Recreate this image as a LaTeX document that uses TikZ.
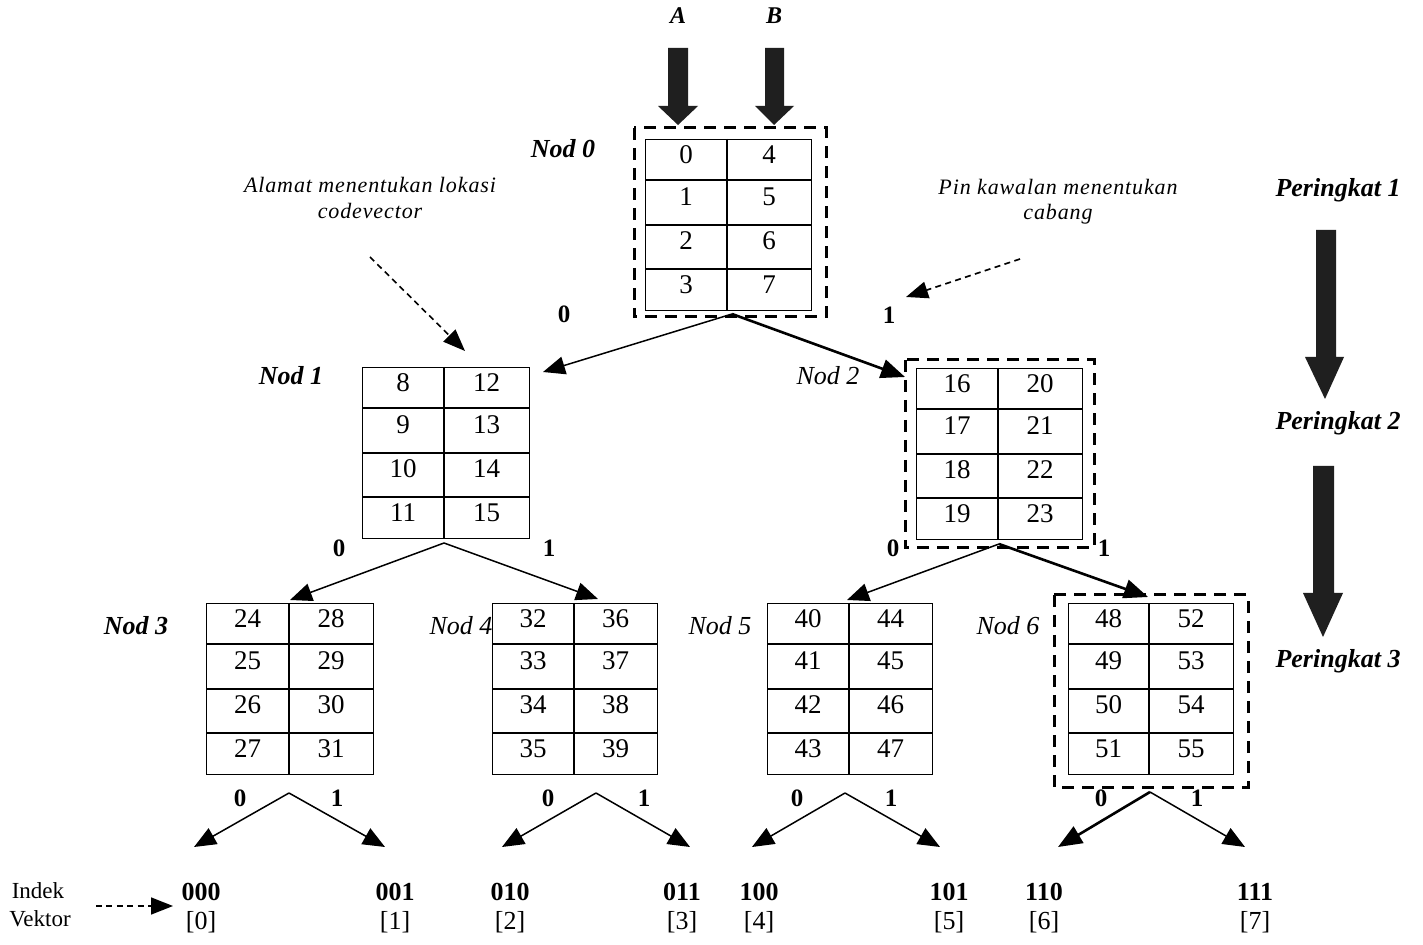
\documentclass[tikz,border=0pt]{standalone}
\usepackage{fontspec}
\setmainfont{Liberation Serif}
\newfontfamily\notefont[LetterSpace=4]{Liberation Serif}
\usetikzlibrary{arrows.meta}

% one pixel of the layout grid = 0.5pt, y grows downwards
\tikzset{
  cell/.style={font=\fontsize{13.5}{15}\selectfont, inner sep=0pt},
  tablebox/.style={draw, line width=0.6pt, anchor=north west, inner sep=0pt,
                   minimum height=85.5pt},
  gridline/.style={line width=0.6pt},
  selbox/.style={draw, line width=1.5pt, dash pattern=on 6pt off 4pt},
  branch/.style={line width=0.75pt, -{Triangle[length=11pt,width=9pt]}},
  chosen/.style={line width=1.3pt, -{Triangle[length=12pt,width=9.5pt]}},
  hint/.style={line width=0.8pt, dash pattern=on 3pt off 2.2pt,
               -{Triangle[length=11pt,width=8.5pt]}},
  nodbold/.style={font=\fontsize{13}{15}\selectfont\bfseries\itshape, anchor=base, inner sep=0pt},
  nodital/.style={font=\fontsize{13}{15}\selectfont\itshape, anchor=base, inner sep=0pt},
  bit/.style={font=\fontsize{12.5}{15}\selectfont\bfseries, anchor=base, inner sep=0pt},
  leafcode/.style={font=\fontsize{13}{15}\selectfont\bfseries, anchor=base, inner sep=0pt},
  leafidx/.style={font=\fontsize{13}{15}\selectfont, anchor=base, inner sep=0pt},
  notetext/.style={font=\fontsize{11}{13}\selectfont\notefont\itshape, anchor=base, inner sep=0pt},
  sidetext/.style={font=\fontsize{11.5}{14}\selectfont, anchor=base, inner sep=0pt},
  level/.style={font=\fontsize{13}{15}\selectfont\bfseries\itshape, anchor=base, inner sep=0pt},
  blockarrow/.style={fill=black!88},
}

% codebook table: name, left x, divider x, right x, top y,
% first entry of left column, first entry of right column
\newcommand{\cbtable}[7]{%
  \pgfmathsetmacro{\cbw}{(#4-#2)*0.5}%
  \node[tablebox, minimum width=\cbw pt] (#1) at (#2,#5) {};
  \draw[gridline] (#3,#5) -- (#3,#5+171);
  \foreach \r in {41,86,130} \draw[gridline] (#2,#5+\r) -- (#4,#5+\r);
  \foreach \r/\ty in {0/16,1/58,2/102,3/146} {
    \pgfmathtruncatemacro{\va}{#6+\r}%
    \pgfmathtruncatemacro{\vb}{#7+\r}%
    \node[cell] (#1-a\r) at ({(#2+#3)/2},#5+\ty) {\va};
    \node[cell] (#1-b\r) at ({(#3+#4)/2},#5+\ty) {\vb};
  }
}

\begin{document}
\begin{tikzpicture}[x=0.5pt,y=-0.5pt]
\useasboundingbox (0,0) rectangle (1423,945);
\fill[white] (0,0) rectangle (1423,945);

% ---- input arrows A and B ----
\node[level, font=\fontsize{12}{14}\selectfont\bfseries\itshape] (lblA) at (678,24) {A};
\node[level, font=\fontsize{12}{14}\selectfont\bfseries\itshape] (lblB) at (774,24) {B};
\fill[blockarrow] (668,48) -- (688,48) -- (688,106) -- (698,106) -- (678,125)
                  -- (658,106) -- (668,106) -- cycle;
\fill[blockarrow] (765,48) -- (784,48) -- (784,106) -- (794,106) -- (774,125)
                  -- (755,106) -- (765,106) -- cycle;

% ---- codebook tables ----
\cbtable{n0}{645}{727}{811}{139}{0}{4}
\cbtable{n1}{362}{444}{529}{367}{8}{12}
\cbtable{n2}{916}{998}{1082}{368}{16}{20}
\cbtable{n3}{206}{289}{373}{603}{24}{28}
\cbtable{n4}{492}{574}{657}{603}{32}{36}
\cbtable{n5}{767}{849}{932}{603}{40}{44}
\cbtable{n6}{1068}{1149}{1233}{603}{48}{52}

% selected path
\draw[selbox] (634,128) rectangle (826,317);
\draw[selbox] (905,360) rectangle (1094,548);
\draw[selbox] (1054,595) rectangle (1248,787);

% ---- node labels ----
\node[nodbold] (t0) at (563,158) {Nod 0};
\node[nodbold] (t1) at (291,385) {Nod 1};
\node[nodital] (t2) at (828,385) {Nod 2};
\node[nodbold] (t3) at (136,634) {Nod 3};
\node[nodital] (t4) at (461,634) {Nod 4};
\node[nodital] (t5) at (720,634) {Nod 5};
\node[nodital] (t6) at (1008,634) {Nod 6};

% ---- branch points and targets ----
\coordinate (p0) at (732,314);
\coordinate (p1) at (444,543);
\coordinate (p2) at (999,544);
\coordinate (p3) at (289,793);
\coordinate (p4) at (596,793);
\coordinate (p5) at (845,793);
\coordinate (p6) at (1150,792);

\coordinate (e1) at (543,372);
\coordinate (e2) at (905,377);
\coordinate (e3) at (290,600);
\coordinate (e4) at (598,599);
\coordinate (e5) at (847,600);
\coordinate (e6) at (1148,597);

\coordinate (v0) at (194,847);
\coordinate (v1) at (385,847);
\coordinate (v2) at (502,847);
\coordinate (v3) at (690,847);
\coordinate (v4) at (752,847);
\coordinate (v5) at (940,847);
\coordinate (v6) at (1058,847);
\coordinate (v7) at (1245,847);

\draw[branch] (p0) -- (e1);
\draw[chosen] (p0) -- (e2);
\draw[branch] (p1) -- (e3);
\draw[branch] (p1) -- (e4);
\draw[branch] (p2) -- (e5);
\draw[chosen] (p2) -- (e6);
\draw[branch] (p3) -- (v0);
\draw[branch] (p3) -- (v1);
\draw[branch] (p4) -- (v2);
\draw[branch] (p4) -- (v3);
\draw[branch] (p5) -- (v4);
\draw[branch] (p5) -- (v5);
\draw[chosen] (p6) -- (v6);
\draw[branch] (p6) -- (v7);

% ---- branch bits ----
\node[bit] (b0l) at (564,323) {0};
\node[bit] (b0r) at (889,324) {1};
\node[bit] (b1l) at (339,557) {0};
\node[bit] (b1r) at (549,557) {1};
\node[bit] (b2l) at (893,557) {0};
\node[bit] (b2r) at (1104,557) {1};
\node[bit] (b3l) at (240,806) {0};
\node[bit] (b3r) at (337,806) {1};
\node[bit] (b4l) at (548,806) {0};
\node[bit] (b4r) at (644,806) {1};
\node[bit] (b5l) at (797,806) {0};
\node[bit] (b5r) at (891,806) {1};
\node[bit] (b6l) at (1101,806) {0};
\node[bit] (b6r) at (1197,806) {1};

% ---- vector indices ----
\foreach \x/\code/\idx [count=\k from 0] in
   {201/000/0, 395/001/1, 510/010/2, 682/011/3,
    759/100/4, 949/101/5, 1044/110/6, 1255/111/7} {
  \node[leafcode] (c\k) at (\x,900) {\code};
  \node[leafidx] (i\k) at (\x,929) {[\idx]};
}

\node[sidetext] (ind1) at (38,898) {Indek};
\node[sidetext] (ind2) at (40,926) {Vektor};
\coordinate (hs) at (96,906);
\coordinate (he) at (173,906);
\draw[hint] (hs) -- (he);

% ---- annotations ----
\node[notetext] (na1) at (370,193) {Alamat menentukan lokasi};
\node[notetext] (na2) at (370,219) {codevector};
\coordinate (nas) at (370,257);
\coordinate (nae) at (465,351);
\draw[hint] (nas) -- (nae);

\node[notetext] (nb1) at (1058,195) {Pin kawalan menentukan};
\node[notetext] (nb2) at (1058,220) {cabang};
\coordinate (nbs) at (1020,259);
\coordinate (nbe) at (906,297);
\draw[hint] (nbs) -- (nbe);

% ---- levels ----
\node[level] (L1) at (1338,197) {Peringkat 1};
\node[level] (L2) at (1338,430) {Peringkat 2};
\node[level] (L3) at (1338,668) {Peringkat 3};
\fill[blockarrow] (1316,230) -- (1336,230) -- (1336,357) -- (1344,357) -- (1325,399)
                  -- (1305,357) -- (1316,357) -- cycle;
\fill[blockarrow] (1313,466) -- (1334,466) -- (1334,593) -- (1343,593) -- (1323,637)
                  -- (1303,593) -- (1313,593) -- cycle;
\end{tikzpicture}
\end{document}
